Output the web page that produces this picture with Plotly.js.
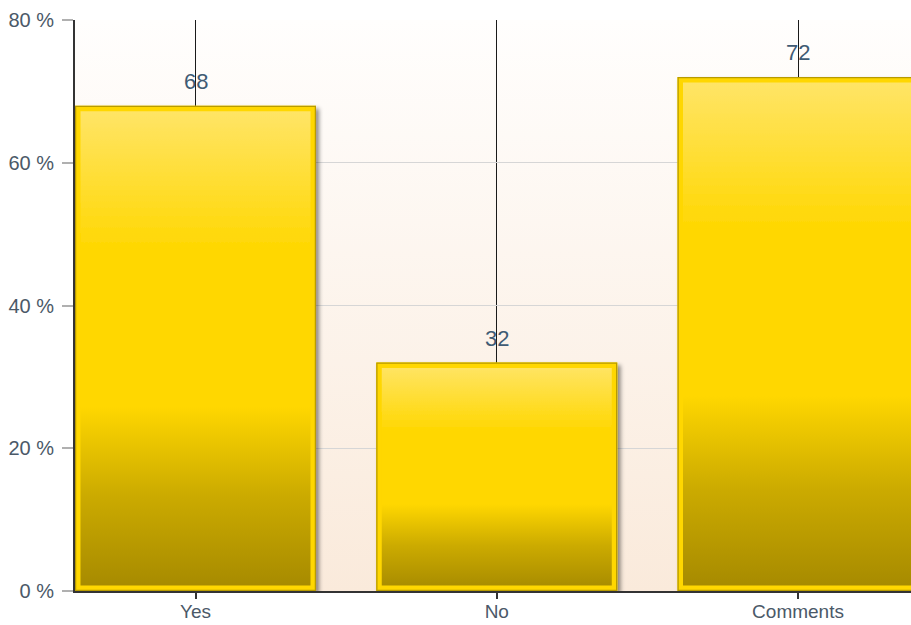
<!DOCTYPE html>
<html>
<head>
<meta charset="utf-8">
<script src="https://cdn.plot.ly/plotly-3.0.1.min.js"></script>
<style>
html,body{margin:0;padding:0;background:#fff;}
#chart{width:911px;height:625px;}
</style>
</head>
<body>
<div id="chart"></div>
<script>
const categories = ["Yes", "No", "Comments"];
const percentages = [68, 32, 72];
const valueLabels = ["68", "32", "72"];
const yTickValues = [0, 20, 40, 60, 80];
const yTickLabels = ["0 %", "20 %", "40 %", "60 %", "80 %"];

const FONT = "Liberation Sans, Arial, sans-serif";
const xIdx = categories.map((c, i) => i);

const trace = {
  type: "bar",
  x: xIdx,
  y: percentages,
  width: 0.8,
  marker: { color: "#FFD700", line: { width: 0 } },
  hoverinfo: "skip",
  cliponaxis: true
};

const annotations = percentages.map((v, i) => ({
  x: i, y: v, xref: "x", yref: "y",
  text: valueLabels[i], showarrow: false,
  yanchor: "bottom", yshift: 10,
  font: { family: FONT, size: 22, color: "#3f5b74" }
}));

const layout = {
  width: 911, height: 625,
  margin: { l: 75, r: 0, t: 20, b: 34 },
  paper_bgcolor: "#ffffff",
  plot_bgcolor: "#fbf0e4",
  showlegend: false,
  xaxis: {
    range: [-0.4, 2.375],
    tickmode: "array", tickvals: xIdx, ticktext: categories,
    showgrid: true, gridcolor: "#1a1a1a", gridwidth: 1,
    zeroline: false,
    showline: true, linecolor: "#333", linewidth: 2,
    ticks: "outside", ticklen: 6, tickcolor: "#333", tickwidth: 2,
    ticklabelstandoff: -4,
    tickfont: { family: FONT, size: 19, color: "#4b5968" },
    fixedrange: true
  },
  yaxis: {
    range: [0, 80],
    tickmode: "array", tickvals: yTickValues, ticktext: yTickLabels,
    showgrid: true, gridcolor: "#d6d6d6", gridwidth: 1,
    zeroline: false,
    showline: true, linecolor: "#333", linewidth: 2,
    ticks: "outside", ticklen: 11, tickcolor: "#b0b0b0", tickwidth: 2,
    ticklabelstandoff: 4,
    tickfont: { family: FONT, size: 20, color: "#4b5968" },
    fixedrange: true
  },
  annotations: annotations
};

Plotly.newPlot("chart", [trace], layout, { displayModeBar: false, staticPlot: true }).then(gd => {
  const svg = gd.querySelector(".main-svg");
  const NS = "http://www.w3.org/2000/svg";
  const defs = document.createElementNS(NS, "defs");
  let html = `
    <linearGradient id="barGrad" x1="0" y1="0" x2="0" y2="1">
      <stop offset="0" stop-color="#ffe56a"/>
      <stop offset="0.3" stop-color="#ffd700"/>
      <stop offset="0.62" stop-color="#ffd700"/>
      <stop offset="0.8" stop-color="#ccab00"/>
      <stop offset="1" stop-color="#a58900"/>
    </linearGradient>
    <linearGradient id="bgGrad" x1="0" y1="0" x2="0" y2="1">
      <stop offset="0" stop-color="#fffefd"/>
      <stop offset="1" stop-color="#faeadb"/>
    </linearGradient>
    <filter id="shadow" x="-10%" y="-10%" width="130%" height="130%">
      <feDropShadow dx="3" dy="3" stdDeviation="2" flood-color="#000" flood-opacity="0.45"/>
    </filter>`;
  const paths = gd.querySelectorAll(".barlayer .point path");
  paths.forEach((p, i) => {
    html += `<clipPath id="barClip${i}"><path d="${p.getAttribute("d")}"/></clipPath>`;
  });
  defs.innerHTML = html;
  svg.insertBefore(defs, svg.firstChild);
  gd.querySelectorAll("rect.bg").forEach(r => { r.style.fill = "url(#bgGrad)"; });
  paths.forEach((p, i) => {
    const g = p.parentNode;
    const outline = p.cloneNode(true);
    p.style.fill = "url(#barGrad)";
    p.style.stroke = "#ffd700";
    p.style.strokeWidth = "11px";
    p.style.strokeOpacity = "1";
    p.setAttribute("clip-path", `url(#barClip${i})`);
    outline.style.fill = "none";
    outline.style.stroke = "#b89b00";
    outline.style.strokeWidth = "2.5px";
    outline.style.strokeOpacity = "1";
    outline.setAttribute("clip-path", `url(#barClip${i})`);
    g.appendChild(outline);
    g.setAttribute("filter", "url(#shadow)");
  });
});
</script>
</body>
</html>
